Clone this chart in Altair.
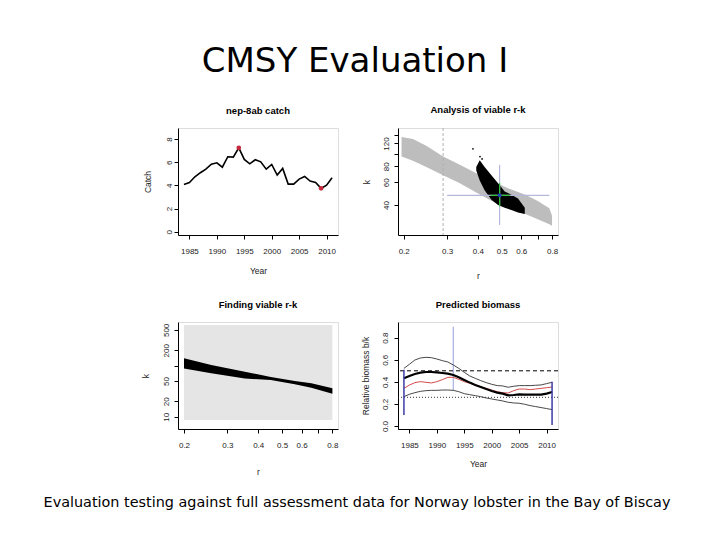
import altair as alt
import pandas as pd

FONT = "Liberation Sans"
SLIDE_FONT = "DejaVu Sans"

slide_title = "CMSY Evaluation I"
slide_caption = "Evaluation testing against full assessment data for Norway lobster in the Bay of Biscay"

# ---------------- Panel 1: catch ----------------
years = list(range(1984, 2012))
catch = [4.08, 4.25, 4.74, 5.09, 5.40, 5.83, 5.95, 5.57, 6.47, 6.44, 7.24, 6.24, 5.86, 6.21,
         6.03, 5.40, 5.80, 4.89, 5.46, 4.11, 4.11, 4.54, 4.77, 4.37, 4.25, 3.74, 4.02, 4.66]
catch_mark_years = [1994, 2009]
catch_mark_values = [7.24, 3.74]

# ---------------- Panel 2: analysis of viable r-k ----------------
band_r = [0.196, 0.218, 0.247, 0.289, 0.338, 0.394, 0.461, 0.53, 0.627, 0.70, 0.78, 0.80]
band_k_high = [135, 130, 115, 95, 82, 70.5, 61, 54, 47.8, 43, 37.7, 33]
band_k_low = [95, 88, 79, 68, 59, 50, 42.4, 38, 33.9, 31, 28.3, 27.6]
kept_r = [0.394, 0.407, 0.426, 0.454, 0.483, 0.514, 0.547, 0.582, 0.62]
kept_k_high = [79, 89, 79, 68, 59, 51, 48, 45, 38]
kept_k_low = [74, 62, 52, 44, 40, 38, 36.6, 35, 34]
outlier_r = [0.382, 0.408, 0.416]
outlier_k = [109, 95, 91]
prior_r_low = [0.289]
cross_r = [0.49]
cross_k = [47.5]
cross_r_lo, cross_r_hi = [0.30], [0.78]
cross_k_lo, cross_k_hi = [28], [82]
green_r_lo, green_r_hi = [0.45], [0.54]
green_k_lo, green_k_hi = [39], [59]

# ---------------- Panel 3: finding viable r-k ----------------
sample_r_lo, sample_r_hi = [0.2], [0.8]
sample_k_lo, sample_k_hi = [8.6], [620]
found_r = [0.2, 0.258, 0.353, 0.45, 0.563, 0.657, 0.8]
found_k_high = [139, 103, 76, 60, 50, 45, 36]
found_k_low = [88, 71, 56, 52, 43, 37, 28]

# ---------------- Panel 4: predicted biomass ----------------
bio_upper = [0.522, 0.559, 0.598, 0.616, 0.622, 0.619, 0.607, 0.592, 0.580, 0.553, 0.522, 0.486,
             0.453, 0.432, 0.411, 0.393, 0.378, 0.366, 0.363, 0.351, 0.360, 0.366, 0.366, 0.366,
             0.369, 0.372, 0.384, 0.396]
bio_median = [0.432, 0.453, 0.471, 0.483, 0.489, 0.489, 0.486, 0.480, 0.474, 0.462, 0.441, 0.417,
              0.393, 0.372, 0.353, 0.335, 0.317, 0.302, 0.293, 0.278, 0.281, 0.287, 0.284, 0.284,
              0.284, 0.284, 0.293, 0.308]
bio_assess = [0.341, 0.371, 0.393, 0.402, 0.396, 0.390, 0.402, 0.420, 0.441, 0.441, 0.423, 0.402,
              0.387, 0.372, 0.357, 0.341, 0.326, 0.311, 0.302, 0.299, 0.320, 0.335, 0.335, 0.329,
              0.335, 0.341, 0.347, 0.353]
bio_lower = [0.266, 0.287, 0.302, 0.314, 0.320, 0.323, 0.323, 0.326, 0.326, 0.323, 0.311, 0.293,
             0.284, 0.275, 0.266, 0.254, 0.245, 0.236, 0.227, 0.215, 0.209, 0.206, 0.197, 0.185,
             0.176, 0.167, 0.158, 0.149]
bmsy_level = [0.5]
half_level = [0.26]
interval_years = [1984, 2011]
interval_low = [0.10, 0.01]
interval_high = [0.51, 0.40]
mark_year = [1993]
mark_low = [0.32]
mark_high = [0.90]

W, H = 160, 107


def x_axis(values, title, title_y, fmt, hide=()):
    kw = dict(values=values, title=title, grid=False, domainColor="black", domainWidth=1,
              tickColor="black", tickSize=4, tickWidth=1, labelFont=FONT, labelFontSize=8,
              labelColor="#222", labelPadding=14.5, labelBaseline="alphabetic",
              labelOverlap=False, labelFlush=False, format=fmt,
              titleFont=FONT, titleFontSize=8.5, titleFontWeight="normal", titleColor="#222",
              titleY=title_y, titleBaseline="alphabetic")
    if hide:
        kw["labelExpr"] = " || ".join(f"datum.value == {h}" for h in hide) + " ? '' : datum.label"
    return alt.Axis(**kw)


def y_axis(values, title, title_x, label_pad, fmt, hide=()):
    kw = dict(values=values, title=title, grid=False, domainColor="black", domainWidth=1,
              tickColor="black", tickSize=4, tickWidth=1, labelFont=FONT, labelFontSize=8,
              labelColor="#222", labelPadding=label_pad, labelAngle=270, labelAlign="center",
              labelBaseline="alphabetic", labelOverlap=False, labelFlush=False, format=fmt,
              titleFont=FONT, titleFontSize=8.5, titleFontWeight="normal", titleColor="#222",
              titleAngle=270, titleX=title_x, titleY=H / 2, titleAlign="center",
              titleBaseline="alphabetic")
    if hide:
        kw["labelExpr"] = " || ".join(f"datum.value == {h}" for h in hide) + " ? '' : datum.label"
    return alt.Axis(**kw)


def panel_title(text):
    return alt.TitleParams(text=text, font=FONT, fontSize=9.5, fontWeight="bold", color="black",
                           anchor="middle", frame="group", offset=5, baseline="alphabetic")


# ---- Panel 1 ----
yr_scale = alt.Scale(domain=[1982.92, 2012.08], nice=False, zero=False)
ax_year1 = x_axis([1985, 1990, 1995, 2000, 2005, 2010], "Year", 38, "d")
ax_catch = y_axis([0, 2, 4, 6, 8], "Catch", -28, 2.8, "d")
cx = lambda f: alt.X(f, type="quantitative", scale=yr_scale, axis=ax_year1)
cy = lambda f: alt.Y(f, type="quantitative",
                     scale=alt.Scale(domain=[-0.285, 8.95], nice=False, zero=False), axis=ax_catch)
catch_df = pd.DataFrame({"year": years, "catch": catch})
catch_mark_df = pd.DataFrame({"year": catch_mark_years, "catch": catch_mark_values})
p1 = alt.layer(
    alt.Chart(catch_df).mark_line(color="black", strokeWidth=1.6).encode(x=cx("year"), y=cy("catch")),
    alt.Chart(catch_mark_df).mark_circle(color="#c8283c", size=22, opacity=1).encode(
        x=cx("year"), y=cy("catch")),
).properties(width=W, height=H, title=panel_title("nep-8ab catch"))

# ---- Panel 2 ----
r_scale2 = alt.Scale(type="log", domain=[0.1896, 0.8458], nice=False)
k_scale2 = alt.Scale(type="log", domain=[23.4, 158.2], nice=False)
ax_r2 = x_axis([0.2, 0.3, 0.4, 0.5, 0.6, 0.7, 0.8], "r", 43, ".1f", hide=(0.7,))
ax_k2 = y_axis([40, 60, 80, 100, 120, 140], "k", -29, 6, "d", hide=(100, 140))
rx2 = lambda f: alt.X(f, type="quantitative", scale=r_scale2, axis=ax_r2)
ky2 = lambda f: alt.Y(f, type="quantitative", scale=k_scale2, axis=ax_k2)

band_df = pd.DataFrame({"r": band_r, "k_lo": band_k_low, "k_hi": band_k_high})
kept_df = pd.DataFrame({"r": kept_r, "k_lo": kept_k_low, "k_hi": kept_k_high})
out_df = pd.DataFrame({"r": outlier_r, "k": outlier_k})
prior_df = pd.DataFrame({"r": prior_r_low})
cross_df = pd.DataFrame({"r": cross_r, "k": cross_k, "r_lo": cross_r_lo, "r_hi": cross_r_hi,
                         "k_lo": cross_k_lo, "k_hi": cross_k_hi})
green_df = pd.DataFrame({"r": cross_r, "k": cross_k, "r_lo": green_r_lo, "r_hi": green_r_hi,
                         "k_lo": green_k_lo, "k_hi": green_k_hi})
p2 = alt.layer(
    alt.Chart(band_df).mark_area(color="#bdbdbd", opacity=1).encode(
        x=rx2("r"), y=ky2("k_lo"), y2="k_hi"),
    alt.Chart(prior_df).mark_rule(color="#b0b0b0", strokeDash=[3, 2], strokeWidth=1).encode(x=rx2("r")),
    alt.Chart(kept_df).mark_area(color="black", opacity=1).encode(
        x=rx2("r"), y=ky2("k_lo"), y2="k_hi"),
    alt.Chart(out_df).mark_circle(color="black", size=3, opacity=1).encode(x=rx2("r"), y=ky2("k")),
    alt.Chart(cross_df).mark_rule(color="#b4b8dc", strokeWidth=1.2).encode(
        x=rx2("r_lo"), x2="r_hi", y=ky2("k")),
    alt.Chart(cross_df).mark_rule(color="#b4b8dc", strokeWidth=1.2).encode(
        x=rx2("r"), y=ky2("k_lo"), y2="k_hi"),
    alt.Chart(green_df).mark_rule(color="#2fbf3a", strokeWidth=1.2).encode(
        x=rx2("r_lo"), x2="r_hi", y=ky2("k")),
    alt.Chart(green_df).mark_rule(color="#2fbf3a", strokeWidth=1.2).encode(
        x=rx2("r"), y=ky2("k_lo"), y2="k_hi"),
    alt.Chart(cross_df).mark_circle(color="#2040c0", size=14, opacity=1).encode(
        x=rx2("r"), y=ky2("k")),
).properties(width=W, height=H, title=panel_title("Analysis of viable r-k"))

# ---- Panel 3 ----
r_scale3 = alt.Scale(type="log", domain=[0.1891, 0.843], nice=False)
k_scale3 = alt.Scale(type="log", domain=[5.75, 713], nice=False)
ax_r3 = x_axis([0.2, 0.3, 0.4, 0.5, 0.6, 0.7, 0.8], "r", 45, ".1f", hide=(0.7,))
ax_k3 = y_axis([10, 20, 50, 100, 200, 500], "k", -30, 6, "d", hide=(100,))
rx3 = lambda f: alt.X(f, type="quantitative", scale=r_scale3, axis=ax_r3)
ky3 = lambda f: alt.Y(f, type="quantitative", scale=k_scale3, axis=ax_k3)
sample_df = pd.DataFrame({"r_lo": sample_r_lo, "r_hi": sample_r_hi,
                          "k_lo": sample_k_lo, "k_hi": sample_k_hi})
found_df = pd.DataFrame({"r": found_r, "k_lo": found_k_low, "k_hi": found_k_high})
caption_df = pd.DataFrame({"caption": [slide_caption]})
p3 = alt.layer(
    alt.Chart(sample_df).mark_rect(color="#e5e5e5", opacity=1).encode(
        x=rx3("r_lo"), x2="r_hi", y=ky3("k_lo"), y2="k_hi"),
    alt.Chart(found_df).mark_area(color="black", opacity=1).encode(
        x=rx3("r"), y=ky3("k_lo"), y2="k_hi"),
    alt.Chart(caption_df).mark_text(font=SLIDE_FONT, fontSize=14.4, color="black",
                                    align="center", baseline="alphabetic").encode(
        text="caption:N", x=alt.value(179), y=alt.value(185)),
).properties(width=W, height=H, title=panel_title("Finding viable r-k"))

# ---- Panel 4 ----
ax_year4 = x_axis([1985, 1990, 1995, 2000, 2005, 2010], "Year", 37, "d")
ax_bio = y_axis([0.0, 0.2, 0.4, 0.6, 0.8], "Relative biomass b/k", -30, 7, ".1f")
bx = lambda f: alt.X(f, type="quantitative", scale=yr_scale, axis=ax_year4)
by = lambda f: alt.Y(f, type="quantitative",
                     scale=alt.Scale(domain=[-0.027, 0.942], nice=False, zero=False), axis=ax_bio)
bio_df = pd.DataFrame({"year": years, "upper": bio_upper, "median": bio_median,
                       "assess": bio_assess, "lower": bio_lower})
lvl_df = pd.DataFrame({"bmsy": bmsy_level, "half": half_level})
int_df = pd.DataFrame({"year": interval_years, "lo": interval_low, "hi": interval_high})
mark_df = pd.DataFrame({"year": mark_year, "lo": mark_low, "hi": mark_high})
p4 = alt.layer(
    alt.Chart(mark_df).mark_rule(color="#b0b4e4", strokeWidth=1.3).encode(
        x=bx("year"), y=by("lo"), y2="hi"),
    alt.Chart(lvl_df).mark_rule(color="black", strokeDash=[4, 3], strokeWidth=1).encode(y=by("bmsy")),
    alt.Chart(lvl_df).mark_rule(color="#333", strokeDash=[1, 2], strokeWidth=1).encode(y=by("half")),
    alt.Chart(bio_df).mark_line(color="#333", strokeWidth=0.9).encode(x=bx("year"), y=by("upper")),
    alt.Chart(bio_df).mark_line(color="#333", strokeWidth=0.9).encode(x=bx("year"), y=by("lower")),
    alt.Chart(bio_df).mark_line(color="#d24a4a", strokeWidth=1).encode(x=bx("year"), y=by("assess")),
    alt.Chart(bio_df).mark_line(color="black", strokeWidth=2.2).encode(x=bx("year"), y=by("median")),
    alt.Chart(int_df).mark_rule(color="#3c3ca8", strokeWidth=1.5).encode(
        x=bx("year"), y=by("lo"), y2="hi"),
).properties(width=W, height=H, title=panel_title("Predicted biomass"))

chart = alt.concat(
    p1, p2, p3, p4, columns=2, spacing={"row": 87, "column": 60}, bounds="flush"
).properties(
    title=alt.TitleParams(text=slide_title, font=SLIDE_FONT, fontSize=34, fontWeight="normal",
                          color="black", anchor="middle", frame="bounds", offset=-1,
                          baseline="alphabetic", dx=-2),
    padding={"left": 35, "top": 36, "right": 5, "bottom": 5},
).configure_view(strokeWidth=0).configure(background="white")

chart.save("out.html", embed_options={"renderer": "svg", "actions": False})
